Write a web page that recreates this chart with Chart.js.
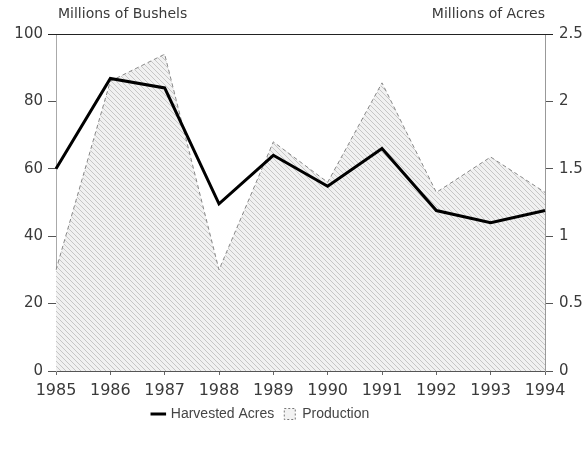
<!DOCTYPE html>
<html>
<head>
<meta charset="utf-8">
<script src="https://cdn.jsdelivr.net/npm/chart.js@4"></script>
<style>
  body { margin: 0; background: #fff; }
</style>
</head>
<body>
<canvas id="grafica" width="586" height="449"></canvas>
<script>
// Datos
const years = ["1985", "1986", "1987", "1988", "1989", "1990", "1991", "1992", "1993", "1994"];
const production = [30, 86, 94, 30, 68, 56, 85.5, 53, 63.5, 53];      // millones de bushels
const harvestedAcres = [1.5, 2.17, 2.1, 1.24, 1.6, 1.37, 1.65, 1.19, 1.1, 1.19]; // millones de acres
const leftTicks = [0, 20, 40, 60, 80, 100];
const rightTicks = [0, 0.5, 1, 1.5, 2, 2.5];

const textColor = "#3a3a3a";
const fontFamily = "'DejaVu Sans', sans-serif";

// Trama rayada para el area de produccion
function crearTrama() {
  const size = 5;
  const c = document.createElement("canvas");
  c.width = size;
  c.height = size;
  const g = c.getContext("2d");
  g.fillStyle = "#f1f1f1";
  g.fillRect(0, 0, size, size);
  g.strokeStyle = "#c6c6c6";
  g.lineWidth = 1;
  g.beginPath();
  g.moveTo(-1, -1);
  g.lineTo(size + 1, size + 1);
  g.moveTo(-1, size - 1);
  g.lineTo(1, size + 1);
  g.moveTo(size - 1, -1);
  g.lineTo(size + 1, 1);
  g.stroke();
  return g.createPattern(c, "repeat");
}

// Titulos de ejes, linea superior y ajuste de la leyenda
const decoracion = {
  id: "decoracion",
  afterLayout(chart) {
    chart.legend.left -= 32;
    chart.legend.right -= 32;
  },
  afterDraw(chart) {
    const { ctx, chartArea } = chart;
    ctx.save();
    ctx.strokeStyle = "#222";
    ctx.lineWidth = 1;
    ctx.beginPath();
    ctx.moveTo(chartArea.left - 8, chartArea.top + 0.5);
    ctx.lineTo(chartArea.right + 8, chartArea.top + 0.5);
    ctx.stroke();
    ctx.fillStyle = textColor;
    ctx.font = "14px " + fontFamily;
    ctx.textBaseline = "middle";
    ctx.textAlign = "left";
    ctx.fillText("Millions of Bushels", chartArea.left + 2, 14);
    ctx.textAlign = "right";
    ctx.fillText("Millions of Acres", chartArea.right, 14);
    ctx.restore();
  },
};

const ctx = document.getElementById("grafica").getContext("2d");

new Chart(ctx, {
  type: "line",
  data: {
    labels: years,
    datasets: [
      {
        label: "Harvested Acres",
        data: harvestedAcres,
        yAxisID: "y1",
        borderColor: "#000",
        borderWidth: 3,
        pointRadius: 0,
        tension: 0,
        fill: false,
        order: 0,
      },
      {
        label: "Production",
        data: production,
        yAxisID: "y",
        borderColor: "#888",
        borderWidth: 1,
        borderDash: [4, 3],
        backgroundColor: crearTrama(),
        pointRadius: 0,
        tension: 0,
        fill: "origin",
        order: 1,
      },
    ],
  },
  options: {
    responsive: false,
    animation: false,
    layout: { padding: { top: 34, bottom: 18, left: 0, right: 0 } },
    scales: {
      x: {
        offset: false,
        grid: { drawOnChartArea: false, tickLength: 4, color: "#666" },
        border: { color: "#555", dash: [3, 2] },
        ticks: { color: textColor, padding: 6, font: { size: 16, family: fontFamily }, maxRotation: 0, autoSkip: false },
        afterFit(scale) { scale.height = 26; },
      },
      y: {
        position: "left",
        min: 0,
        max: 100,
        afterBuildTicks(scale) { scale.ticks = leftTicks.map((v) => ({ value: v })); },
        grid: { drawOnChartArea: false, tickLength: 8, color: "#555" },
        border: { color: "#aaa", dash: [2, 2] },
        ticks: { color: textColor, padding: 5, font: { size: 15, family: fontFamily } },
        afterFit(scale) { scale.width = 56; },
      },
      y1: {
        position: "right",
        min: 0,
        max: 2.5,
        afterBuildTicks(scale) { scale.ticks = rightTicks.map((v) => ({ value: v })); },
        grid: { drawOnChartArea: false, tickLength: 8, color: "#555" },
        border: { color: "#999", dash: [2, 2] },
        ticks: {
          color: textColor,
          padding: 6,
          font: { size: 15, family: fontFamily },
          callback: (v) => String(v),
        },
        afterFit(scale) { scale.width = 41; },
      },
    },
    plugins: {
      tooltip: { enabled: false },
      legend: {
        display: true,
        position: "bottom",
        labels: {
          usePointStyle: true,
          boxHeight: 11,
          boxWidth: 11,
          padding: 10,
          color: "#444",
          font: { size: 14, family: "'Liberation Sans', Arial, sans-serif" },
          generateLabels() {
            return [
              { text: "Harvested Acres", pointStyle: "line", strokeStyle: "#000", fillStyle: "#000", lineWidth: 3, fontColor: "#444", datasetIndex: 0 },
              { text: "Production", pointStyle: "rect", strokeStyle: "#777", fillStyle: "#f2f2f2", lineWidth: 1, lineDash: [2, 2], fontColor: "#444", datasetIndex: 1 },
            ];
          },
        },
      },
    },
  },
  plugins: [decoracion],
});
</script>
</body>
</html>
